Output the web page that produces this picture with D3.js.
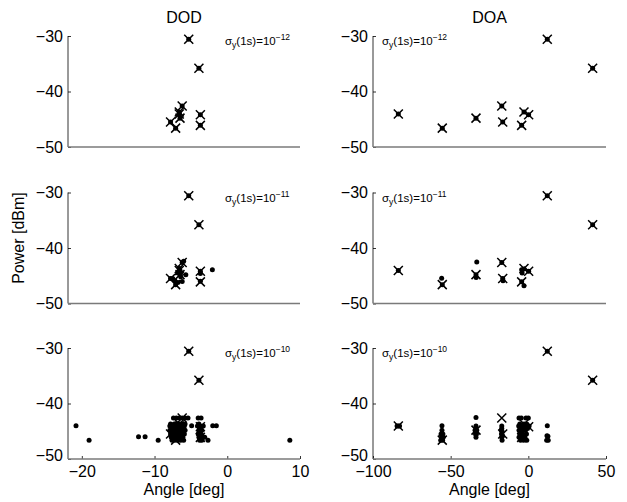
<!DOCTYPE html>
<html>
<head>
<meta charset="utf-8">
<script src="https://cdn.jsdelivr.net/npm/d3@7"></script>
<style>
  html, body { margin: 0; padding: 0; background: #fff; }
  svg { display: block; font-family: "Liberation Sans", Arial, Helvetica, sans-serif; }
</style>
</head>
<body>
<svg id="chart" width="627" height="502"></svg>
<script>
// True multipath components: departure angle, arrival angle, power
const pathDOD   = [-5.3, -3.9, -6.2, -6.6, -6.6, -6.5, -7.8, -7.1, -3.7, -3.7];
const pathDOA   = [12.2, 41.4, -17.1, -2.8, -83.7, -33.7, -16.5, -55.4, 0.2, -4.3];
const pathPower = [-30.6, -35.8, -42.6, -43.7, -44.05, -44.8, -45.5, -46.6, -44.2, -46.1];

// Noise levels of the clock, one per row (exponent of sigma_y(1s))
const sigmaExp = ["−12", "−11", "−10"];

// Estimated components [angle, power] for sigma = 1e-11
const estDOD11 = [
  [-5.3, -30.6], [-3.9, -35.8], [-6.2, -42.6], [-6.0, -42.4], [-6.6, -43.7], [-6.5, -44.05],
  [-6.8, -44.5], [-6.5, -44.8], [-7.8, -45.5], [-7.5, -45.5], [-7.1, -46.6], [-6.8, -46.2],
  [-5.7, -44.8], [-6.2, -46.05], [-3.7, -44.2], [-3.7, -44.6], [-3.7, -46.0], [-2.05, -43.9],
  [-6.4, -45.2], [-7.2, -45.9]
];
const estDOA11 = [
  [-83.7, -44.05], [-55.8, -45.45], [-55.4, -46.6], [-33.2, -42.5], [-33.7, -44.8], [-33.6, -45.3],
  [-17.1, -42.6], [-16.5, -45.5], [-16.3, -45.9], [-4.3, -43.9], [-4.0, -44.5], [-4.3, -46.1],
  [-2.8, -46.8], [-2.8, -43.8], [0.2, -44.2], [12.2, -30.6], [41.4, -35.8]
];

// Estimated components [angle, power] for sigma = 1e-10
const estDOD10 = [
  [-5.3, -30.6], [-3.9, -35.8],
  [-20.8, -44.0], [-19.0, -46.6], [-12.2, -46.0], [-11.3, -46.0], [-9.5, -46.6],
  [-4.9, -44.0], [-2.65, -46.6], [-2.0, -44.0], [-1.5, -44.0], [8.6, -46.6],
  [-7.4, -42.6], [-7.0, -42.6], [-6.6, -42.6], [-6.2, -42.6], [-5.8, -42.6], [-5.4, -42.6],
  [-7.8, -43.7], [-7.3, -43.7], [-6.9, -43.7], [-6.5, -43.7], [-6.1, -43.7], [-5.8, -43.7],
  [-7.9, -44.05], [-7.5, -44.05], [-7.1, -44.05], [-6.7, -44.05], [-6.3, -44.05], [-5.9, -44.05],
  [-7.6, -44.5], [-7.2, -44.5], [-6.8, -44.5], [-6.4, -44.5], [-6.0, -44.5],
  [-7.9, -44.8], [-7.4, -44.8], [-7.0, -44.8], [-6.6, -44.8], [-6.2, -44.8], [-5.8, -44.8],
  [-7.8, -45.5], [-7.4, -45.5], [-7.0, -45.5], [-6.6, -45.5], [-6.2, -45.5], [-5.9, -45.5],
  [-7.7, -46.1], [-7.3, -46.1], [-6.9, -46.1], [-6.5, -46.1], [-6.1, -46.1],
  [-7.6, -46.6], [-7.2, -46.6], [-6.8, -46.6], [-6.4, -46.6], [-6.0, -46.6],
  [-4.0, -42.6], [-3.6, -42.6], [-3.9, -43.7], [-4.1, -44.05], [-3.7, -44.05], [-3.3, -44.05],
  [-3.8, -44.5], [-3.9, -44.8], [-3.5, -44.8], [-4.0, -45.5], [-3.6, -45.5],
  [-3.9, -46.1], [-3.4, -46.1], [-3.1, -46.1], [-3.8, -46.6], [-3.5, -46.6]
];
const estDOA10 = [
  [12.2, -30.6], [41.4, -35.8],
  [-84.5, -44.05], [-83.7, -44.05], [-82.9, -44.05],
  [-55.6, -44.0], [-55.6, -44.8], [-56.2, -45.5], [-55.0, -45.5], [-55.8, -46.1], [-54.8, -46.1],
  [-56.4, -46.6], [-55.2, -46.6],
  [-33.7, -42.5], [-33.7, -44.05], [-34.3, -44.8], [-33.2, -44.8], [-34.0, -45.5], [-33.4, -45.5],
  [-33.7, -46.1],
  [-17.1, -44.05], [-17.1, -44.5], [-17.5, -44.8], [-16.8, -45.1], [-17.3, -45.5], [-16.6, -45.8],
  [-17.1, -46.1], [-16.9, -46.6],
  [-6.0, -42.6], [-4.5, -42.6], [-1.5, -42.6], [0.0, -42.6],
  [-5.5, -43.7], [-2.8, -43.7], [-1.0, -43.7],
  [-6.2, -44.05], [-4.0, -44.05], [-2.0, -44.05], [0.5, -44.05],
  [-5.0, -44.5], [-3.0, -44.5], [-0.5, -44.5],
  [-6.0, -44.8], [-4.2, -44.8], [-1.8, -44.8],
  [-5.5, -45.5], [-3.5, -45.5], [-1.2, -45.5],
  [-6.0, -46.1], [-4.3, -46.1], [-2.2, -46.1],
  [-5.0, -46.6], [-3.0, -46.6], [-1.0, -46.6],
  [12.2, -44.0], [12.0, -45.8], [12.6, -45.9], [11.8, -46.6], [12.8, -46.6]
];

// Axis ranges and tick values
const dodDomain = [-21.9, 10];
const doaDomain = [-100, 50];
const powerDomain = [-50, -30];
const dodTicks = [-20, -10, 0, 10];
const doaTicks = [-100, -50, 0, 50];
const powerTicks = [-50, -40, -30];

const svg = d3.select("#chart");
const fmt = v => String(v).replace("-", "−");
const FONT = 16;

const cols = [
  { title: "DOD", x0: 68, x1: 300, domain: dodDomain, ticks: dodTicks, truth: pathDOD,
    est: [null, estDOD11, estDOD10], noteX: 157 },
  { title: "DOA", x0: 373, x1: 606, domain: doaDomain, ticks: doaTicks, truth: pathDOA,
    est: [null, estDOA11, estDOA10], noteX: 9 }
];
const rowTops = [36, 192.5, 348];
const rowH = 111;

cols.forEach(col => {
  const x = d3.scaleLinear().domain(col.domain).range([col.x0, col.x1]);

  svg.append("text")
    .attr("x", (col.x0 + col.x1) / 2).attr("y", 23)
    .attr("text-anchor", "middle").attr("font-size", FONT)
    .text(col.title);

  rowTops.forEach((top, r) => {
    const bottom = top + rowH;
    const y = d3.scaleLinear().domain(powerDomain).range([bottom, top]);
    const g = svg.append("g");

    // y axis
    const yAxis = d3.axisLeft(y).tickValues(powerTicks).tickSize(-3).tickPadding(5).tickFormat(fmt);
    const ya = g.append("g").attr("transform", `translate(${col.x0},0)`).call(yAxis);
    ya.select(".domain").attr("d", `M0,${top}V${bottom}`).attr("stroke", "#000").attr("stroke-width", 0.8);
    ya.selectAll(".tick line").attr("stroke", "#000").attr("stroke-width", 0.8);
    ya.selectAll(".tick text").attr("font-size", FONT).attr("fill", "#000")
      .attr("font-family", "Liberation Sans, Arial, sans-serif");
    // the lowest label sits just above the x tick labels on the bottom row
    if (r === 2) ya.selectAll(".tick text").filter(d => d === -50).attr("dy", "0.1em");

    // x axis (labels only on the bottom row)
    const xa = g.append("g").attr("transform", `translate(0,${bottom})`);
    if (r === 2) {
      xa.call(d3.axisBottom(x).tickValues(col.ticks).tickSize(-3).tickPadding(7).tickFormat(fmt));
      xa.selectAll(".tick line").attr("stroke", "#000").attr("stroke-width", 0.8);
      xa.selectAll(".tick text").attr("font-size", FONT).attr("fill", "#000")
        .attr("font-family", "Liberation Sans, Arial, sans-serif");
      xa.select(".domain").remove();
    }
    xa.append("line").attr("x1", col.x0).attr("x2", col.x1)
      .attr("stroke", "#7a7a7a").attr("stroke-width", 1.3);

    // estimated components (dots); in the top row they coincide with the true paths
    const est = col.est[r] || col.truth.map((a, i) => [a, pathPower[i]]);
    g.selectAll("circle.est").data(est).join("circle")
      .attr("class", "est")
      .attr("cx", d => x(d[0])).attr("cy", d => y(d[1]))
      .attr("r", 2.5).attr("fill", "#000");

    // true paths (crosses)
    const truth = col.truth.map((a, i) => [a, pathPower[i]]);
    const s = 4.5;
    g.selectAll("path.truth").data(truth).join("path")
      .attr("class", "truth")
      .attr("d", d => {
        const cx = x(d[0]), cy = y(d[1]);
        return `M${cx - s},${cy - s}L${cx + s},${cy + s}M${cx - s},${cy + s}L${cx + s},${cy - s}`;
      })
      .attr("stroke", "#000").attr("stroke-width", 1.5).attr("fill", "none");

    // noise-level note
    const note = g.append("text")
      .attr("x", col.x0 + col.noteX).attr("y", top + 9)
      .attr("font-size", 11.5).attr("fill", "#000");
    note.append("tspan").text("σ");
    note.append("tspan").attr("font-size", 8.5).attr("dy", 3).text("y");
    note.append("tspan").attr("dy", -3).text("(1s)=10");
    note.append("tspan").attr("font-size", 8.5).attr("dy", -5).text(sigmaExp[r]);
  });

  svg.append("text")
    .attr("x", (col.x0 + col.x1) / 2).attr("y", 495)
    .attr("text-anchor", "middle").attr("font-size", FONT)
    .text("Angle [deg]");
});

svg.append("text")
  .attr("transform", "translate(24,238) rotate(-90)")
  .attr("text-anchor", "middle").attr("font-size", FONT)
  .text("Power [dBm]");
</script>
</body>
</html>
